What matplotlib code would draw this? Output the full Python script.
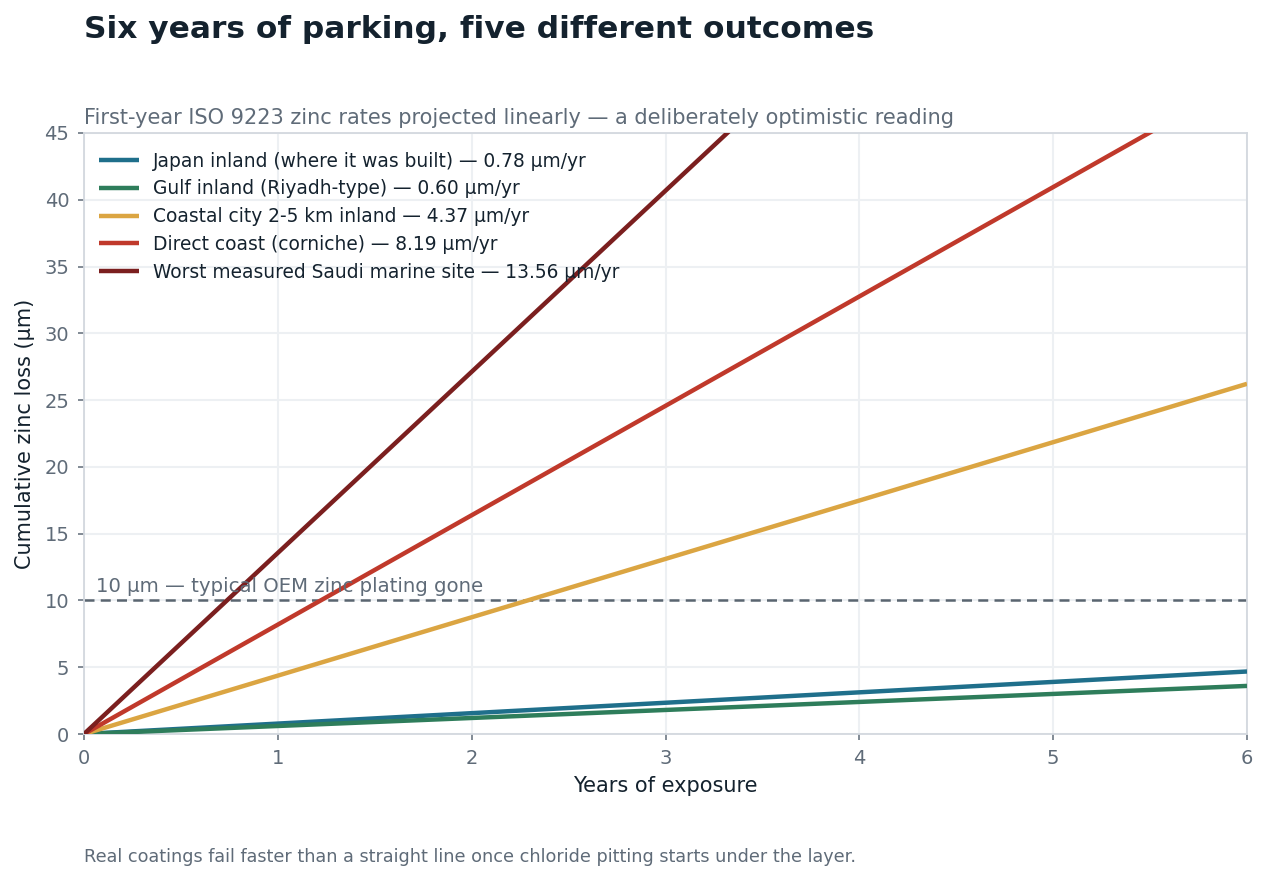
import numpy as np
import matplotlib.pyplot as plt

# first-year ISO 9223 zinc corrosion rates, um/yr
sites = [
    "Japan inland (where it was built)",
    "Gulf inland (Riyadh-type)",
    "Coastal city 2-5 km inland",
    "Direct coast (corniche)",
    "Worst measured Saudi marine site",
]
rates = [0.78, 0.60, 4.37, 8.19, 13.56]
colors = ["#1f6f8b", "#2e7d5b", "#dba542", "#c0392b", "#7b1f1f"]
years = np.array([0, 1, 2, 3, 4, 5, 6])
threshold = 10

INK = "#14222e"
MUTED = "#5f6b78"

plt.rcParams.update({
    "font.family": "DejaVu Sans",
    "figure.facecolor": "white",
})

fig = plt.figure(figsize=(12.68, 8.81), dpi=100)
ax = fig.add_axes([84 / 1268, 1 - 734 / 881, (1247 - 84) / 1268, (734 - 133) / 881])

for name, rate, c in zip(sites, rates, colors):
    ax.plot(years, years * rate, color=c, lw=3.2, solid_capstyle="butt",
            label=f"{name} — {rate:.2f} μm/yr", zorder=3)

ax.axhline(threshold, color="#5a6570", lw=1.8, ls=(0, (4, 2.5)), zorder=2)
ax.text(0.06, threshold + 0.35, "10 μm — typical OEM zinc plating gone",
        fontsize=14.2, color=MUTED, ha="left", va="bottom", zorder=4)

ax.set_xlim(0, 6)
ax.set_ylim(0, 45)
ax.set_xticks(range(0, 7))
ax.set_yticks(range(0, 46, 5))
ax.grid(True, color="#edf0f3", lw=1.5, zorder=0)
ax.set_axisbelow(True)
for s in ax.spines.values():
    s.set_color("#d3d8de")
    s.set_linewidth(1.3)
ax.tick_params(colors=MUTED, labelcolor=MUTED, labelsize=14, length=4.5, width=1.1, pad=6)

ax.set_xlabel("Years of exposure", fontsize=15, color=INK, labelpad=6)
ax.set_ylabel("Cumulative zinc loss (μm)", fontsize=15, color=INK, labelpad=7)

leg = ax.legend(loc="upper left", bbox_to_anchor=(-0.0035, 1.0), frameon=False,
                fontsize=13.4, handlelength=2.2, borderaxespad=0.6,
                labelspacing=0.47, handletextpad=0.7)
for t in leg.get_texts():
    t.set_color(INK)

fig.text(84 / 1268, 1 - 29 / 881, "Six years of parking, five different outcomes",
         fontsize=22.5, fontweight="bold", color=INK, ha="left", va="center")
fig.text(84 / 1268, 1 - 118 / 881,
         "First-year ISO 9223 zinc rates projected linearly — a deliberately optimistic reading",
         fontsize=15, color=MUTED, ha="left", va="center")
fig.text(84 / 1268, 1 - 857 / 881,
         "Real coatings fail faster than a straight line once chloride pitting starts under the layer.",
         fontsize=12.7, color=MUTED, ha="left", va="center")

fig.savefig("out.png", dpi=100, facecolor="white")
